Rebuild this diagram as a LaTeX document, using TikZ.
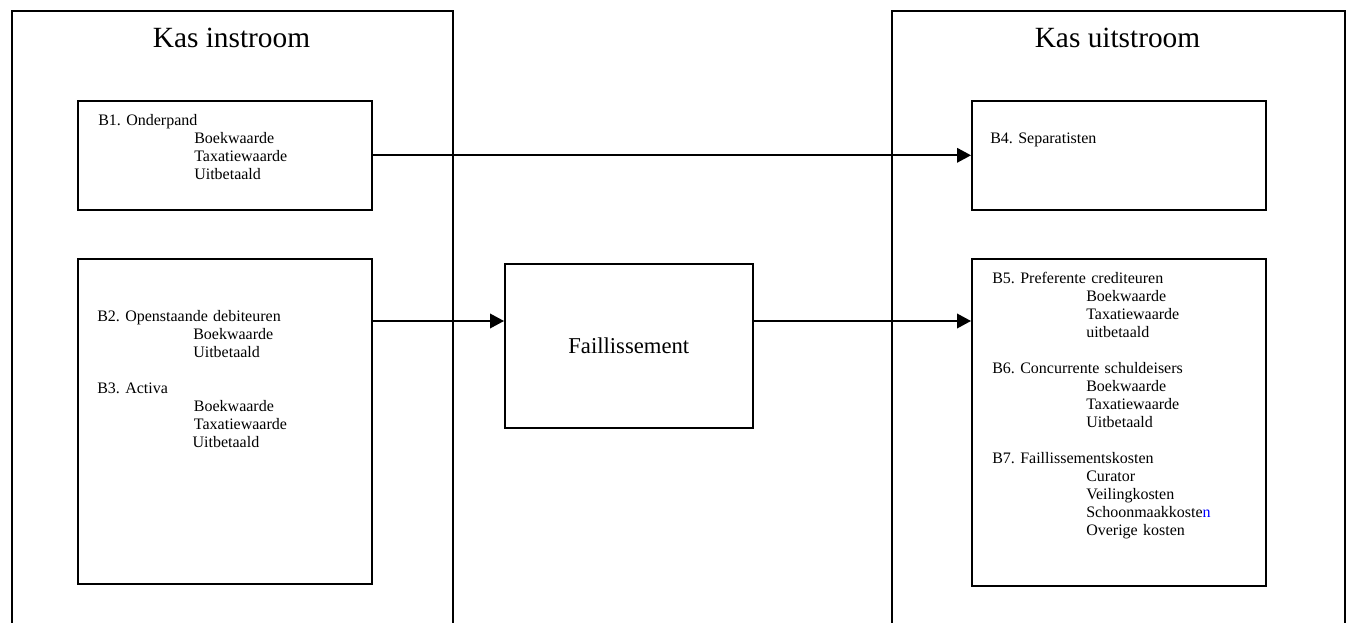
\documentclass[tikz,border=0pt]{standalone}
\usepackage{fontspec}
\setmainfont{Liberation Serif}
\usepackage{xcolor}
\usetikzlibrary{positioning, arrows.meta, calc}

\frenchspacing
\newcommand{\sub}[2][72pt]{\hspace*{#1}#2}

\begin{document}
\begin{tikzpicture}[
    x=0.75pt, y=-0.75pt,
    every node/.style={font=\fontsize{12pt}{13.5pt}\selectfont},
    panel/.style={draw, line width=1.2pt, anchor=north west, inner sep=0pt,
                  minimum height=495pt},
    block/.style={draw, line width=1.2pt, anchor=north west, inner sep=0pt,
                  minimum width=220.5pt},
    heading/.style={anchor=base, inner sep=0pt,
                    font=\fontsize{22pt}{26pt}\selectfont},
    item/.style={anchor=base west, inner sep=0pt, text width=230pt,
                 align=left},
    arrow/.style={-{Triangle[length=10.5pt, width=11pt]}, line width=1.2pt},
]

\useasboundingbox (0,0) rectangle (1349,623);
\clip (0,0) rectangle (1349,623);

% Cash in
\node[panel, minimum width=330.75pt] (instroom) at (11,10) {};
\node[heading] (intitle) at (231.5,48) {Kas instroom};
\node[block, minimum height=81.75pt] (b1) at (77,100) {};
\node[block, minimum height=243.75pt] (b23) at (77,258) {};

% Cash out
\node[panel, minimum width=339.75pt] (uitstroom) at (891,10) {};
\node[heading] (uittitle) at (1117.5,48) {Kas uitstroom};
\node[block, minimum height=81.75pt] (b4) at (971,100) {};
\node[block, minimum height=245.25pt] (b57) at (971,258) {};

% Bankruptcy
\node[block, minimum width=186pt, minimum height=123pt] (fail) at (504,263) {};
\node (failtxt) at (fail.center) {\fontsize{17pt}{20pt}\selectfont Faillissement};

% Texts
\node[item] (b1txt) at ($(b1.north west)+(21,26)$)
    {B1. Onderpand\\ \sub{Boekwaarde}\\ \sub{Taxatiewaarde}\\ \sub{Uitbetaald}};
\node[item] (b23txt) at (97,322)
    {B2. Openstaande debiteuren\\ \sub{Boekwaarde}\\ \sub{Uitbetaald}\\[13.5pt]
     B3. Activa\\ \sub[72.5pt]{Boekwaarde}\\ \sub[72.5pt]{Taxatiewaarde}\\ \sub[71.5pt]{Uitbetaald}};
\node[item] (b4txt) at (990,144) {B4. Separatisten};
\node[item] (b57txt) at ($(b57.north west)+(21,26)$)
    {B5. Preferente crediteuren\\ \sub[70.5pt]{Boekwaarde}\\ \sub[70.5pt]{Taxatiewaarde}\\ \sub[70.5pt]{uitbetaald}\\[13.5pt]
     B6. Concurrente schuldeisers\\ \sub[70.5pt]{Boekwaarde}\\ \sub[70.5pt]{Taxatiewaarde}\\ \sub[70.5pt]{Uitbetaald}\\[13.5pt]
     B7. Faillissementskosten\\ \sub[70.5pt]{Curator}\\ \sub[70.5pt]{Veilingkosten}\\ \sub[70.5pt]{Schoonmaakkoste\textcolor{blue}{n}}\\ \sub[70.5pt]{Overige kosten}};

% Arrows
\coordinate (flow) at (0,321);
\draw[arrow] (b1) -- (b4);
\draw[arrow] (b23.east |- flow) -- (fail.west |- flow);
\draw[arrow] (fail.east |- flow) -- (b57.west |- flow);

\end{tikzpicture}
\end{document}
